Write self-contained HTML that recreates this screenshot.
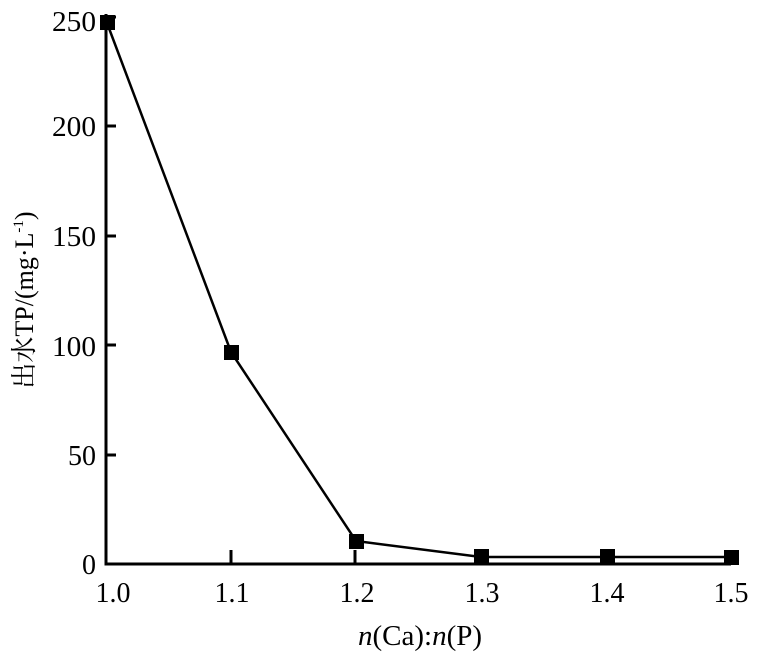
<!DOCTYPE html>
<html><head><style>body{margin:0;background:#fff}</style></head><body>
<svg width="762" height="663" xmlns="http://www.w3.org/2000/svg" font-family="Liberation Serif, 'Noto Serif CJK SC', serif">
<g stroke="#000" stroke-width="3" fill="none">
<polyline points="106,14 106,564 731,564"/>
<line x1="106" y1="455" x2="116" y2="455"/>
<line x1="106" y1="345" x2="116" y2="345"/>
<line x1="106" y1="236" x2="116" y2="236"/>
<line x1="106" y1="126" x2="116" y2="126"/>
<line x1="106" y1="17" x2="116" y2="17"/>
<line x1="231" y1="564" x2="231" y2="550"/>
<line x1="355" y1="564" x2="355" y2="550"/>
<line x1="480" y1="564" x2="480" y2="550"/>
<line x1="604" y1="564" x2="604" y2="550"/>
<line x1="729" y1="564" x2="729" y2="550"/>
</g>
<polyline points="107,23 231,352 356,541 481,557 607,557 731,557" stroke="#000" stroke-width="2.5" fill="none"/>
<g fill="#000">
<rect x="100" y="15" width="15" height="15"/>
<rect x="224" y="345" width="15" height="15"/>
<rect x="349" y="534" width="15" height="15"/>
<rect x="474" y="549" width="15" height="15"/>
<rect x="600" y="549" width="15" height="15"/>
<rect x="724" y="550" width="15" height="15"/>
</g>
<g font-size="28" text-anchor="end" fill="#000">
<text x="96" y="31" textLength="44" lengthAdjust="spacingAndGlyphs">250</text>
<text x="96" y="136" textLength="44" lengthAdjust="spacingAndGlyphs">200</text>
<text x="96" y="246" textLength="44" lengthAdjust="spacingAndGlyphs">150</text>
<text x="96" y="356" textLength="44" lengthAdjust="spacingAndGlyphs">100</text>
<text x="96" y="465">50</text>
<text x="96" y="574">0</text>
</g>
<g font-size="28" text-anchor="middle" fill="#000">
<text x="113" y="602">1.0</text>
<text x="232" y="602">1.1</text>
<text x="357" y="602">1.2</text>
<text x="482" y="602">1.3</text>
<text x="607" y="602">1.4</text>
<text x="731" y="602">1.5</text>
<text x="420" y="645" font-size="29"><tspan font-style="italic">n</tspan>(Ca):<tspan font-style="italic">n</tspan>(P)</text>
</g>
<text transform="translate(33,300) rotate(-90)" font-size="26" text-anchor="middle" fill="#000">出水TP/(mg·L<tspan font-size="15" dy="-10">-1</tspan><tspan dy="10">)</tspan></text>
</svg>
</body></html>
